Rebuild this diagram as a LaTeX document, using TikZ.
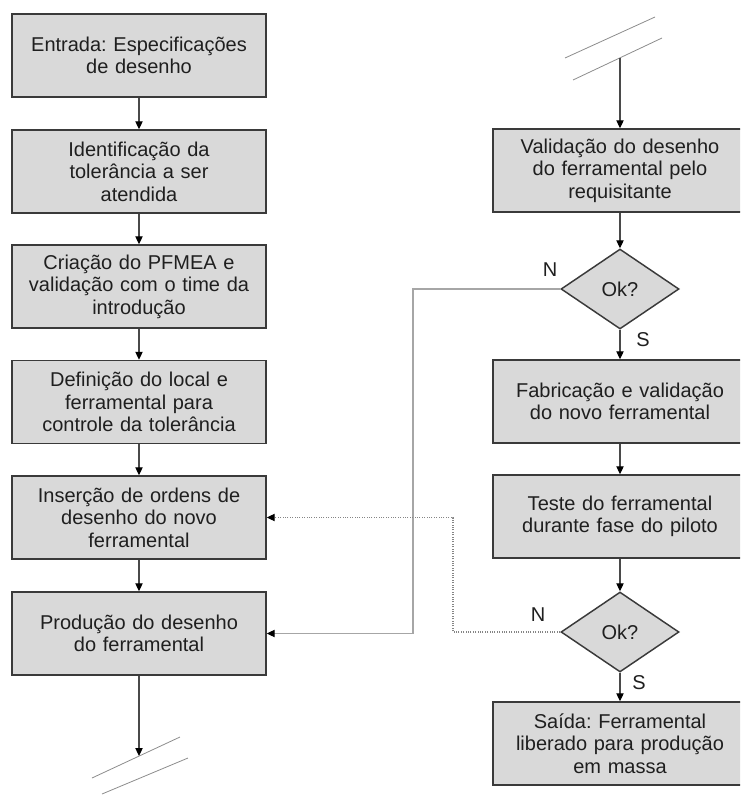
\documentclass[tikz,border=0pt]{standalone}
\usepackage{fontspec}
\setmainfont{Liberation Sans}
\usetikzlibrary{shapes.geometric,arrows.meta}
\definecolor{boxfill}{HTML}{D9D9D9}
\definecolor{boxline}{HTML}{3A3A3A}
\definecolor{linkgray}{HTML}{4A4A4A}
\definecolor{loopgray}{HTML}{A6A6A6}
\definecolor{breakgray}{HTML}{8C8C8C}
\frenchspacing
\begin{document}
\begin{tikzpicture}[x=0.75pt,y=-0.75pt,
  every node/.style={font=\fontsize{15}{16.8}\selectfont, text=black!88},
  stepbox/.style={draw=boxline, line width=1.1pt, fill=boxfill, rectangle,
    minimum width=190.5pt, minimum height=62.25pt, inner sep=0pt,
    align=center, text width=188pt},
  decision/.style={draw=boxline, line width=1.1pt, fill=boxfill, diamond,
    minimum width=88.5pt, minimum height=60pt, inner sep=0pt},
  arr/.style={draw=linkgray, line width=0.8pt, -{Triangle[width=5.5pt,length=6pt,color=black]}},
  loopline/.style={draw=loopgray, line width=0.8pt, -{Triangle[width=5.5pt,length=6pt,color=black]}},
  dotline/.style={draw=loopgray!80!black, line width=0.8pt, densely dotted, -{Triangle[width=5.5pt,length=6pt,color=black]}},
  breakline/.style={draw=breakgray, line width=0.6pt},
  lbl/.style={inner sep=0pt}
]
\useasboundingbox (0,0) rectangle (740,796);
\clip (0,0) rectangle (740,796);

% left column
\node[stepbox] (l1) at (139,55.5) {Entrada: Especificações\\de desenho};
\node[stepbox] (l2) at (139,171.5) {Identificação da\\tolerância a ser\\atendida};
\node[stepbox] (l3) at (139,286.5) {Criação do PFMEA e\\validação com o time da\\introdução};
\node[stepbox] (l4) at (139,402) {Definição do local e\\ferramental para\\controle da tolerância};
\node[stepbox] (l5) at (139,517.5) {Inserção de ordens de\\desenho do novo\\ferramental};
\node[stepbox] (l6) at (139,633.5) {Produção do desenho\\do ferramental};

% right column
\node[stepbox] (r1) at (620,170.5) {Validação do desenho\\do ferramental pelo\\requisitante};
\node[decision] (d1) at (620,289) {Ok?};
\node[stepbox] (r2) at (620,401.5) {Fabricação e validação\\do novo ferramental};
\node[stepbox] (r3) at (620,516.5) {Teste do ferramental\\durante fase do piloto};
\node[decision] (d2) at (620,632) {Ok?};
\node[stepbox] (r4) at (620,743.5) {Saída: Ferramental\\liberado para produção\\em massa};

% decision labels
\node[lbl] (n1lbl) at (550,270) {N};
\node[lbl] (s1lbl) at (643,340) {S};
\node[lbl] (n2lbl) at (538,615) {N};
\node[lbl] (s2lbl) at (639,683) {S};

% page-break marks
\coordinate (lbA1) at (92,778);
\coordinate (lbA2) at (180,737);
\coordinate (lbB1) at (102,794);
\coordinate (lbB2) at (188,758);
\coordinate (lend) at (139,756);
\coordinate (rbA1) at (565,58);
\coordinate (rbA2) at (655,17);
\coordinate (rbB1) at (573,80);
\coordinate (rbB2) at (662,38);
\coordinate (rstart) at (620,58);
\draw[breakline] (lbA1) -- (lbA2);
\draw[breakline] (lbB1) -- (lbB2);
\draw[breakline] (rbA1) -- (rbA2);
\draw[breakline] (rbB1) -- (rbB2);

% main flow
\draw[arr] (l1.south) -- (l2.north);
\draw[arr] (l2.south) -- (l3.north);
\draw[arr] (l3.south) -- (l4.north);
\draw[arr] (l4.south) -- (l5.north);
\draw[arr] (l5.south) -- (l6.north);
\draw[arr] (l6.south) -- (lend);
\draw[arr] (rstart) -- (r1.north);
\draw[arr] (r1.south) -- (d1.north);
\draw[arr] (d1.south) -- (r2.north);
\draw[arr] (r2.south) -- (r3.north);
\draw[arr] (r3.south) -- (d2.north);
\draw[arr] (d2.south) -- (r4.north);

% rejection paths
\coordinate (k1) at (413,289);
\coordinate (k2) at (453,632);
\draw[loopline] (d1.west) -- (k1) |- (l6.east);
\draw[dotline] (d2.west) -- (k2) |- (l5.east);
\end{tikzpicture}
\end{document}
